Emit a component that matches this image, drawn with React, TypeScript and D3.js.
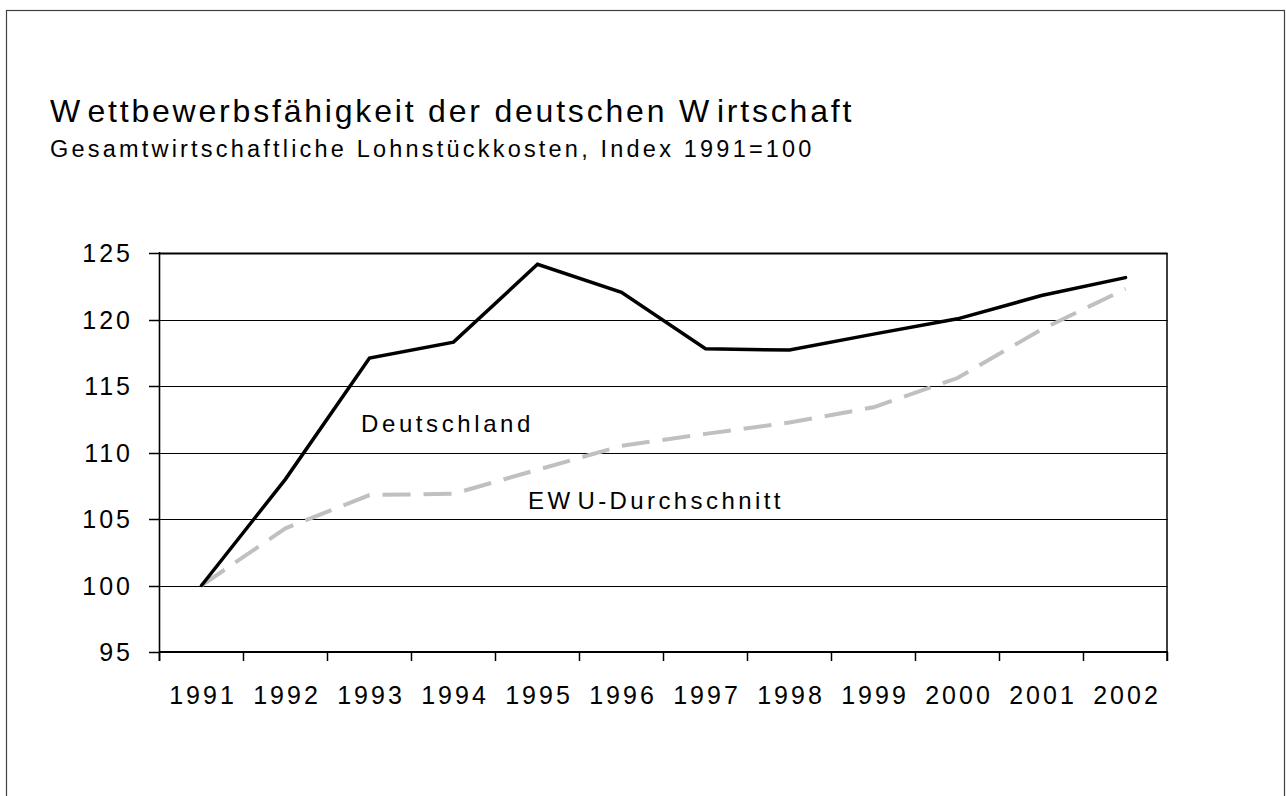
import React from "react";
import * as d3 from "d3";

const years = ["1991","1992","1993","1994","1995","1996","1997","1998","1999","2000","2001","2002"];
const deutschland = [100, 108, 117.1, 118.3, 124.15, 122.05, 117.8, 117.7, 118.9, 120.05, 121.8, 123.15];
const ewu = [100, 104.3, 106.8, 106.9, 108.7, 110.5, 111.4, 112.25, 113.4, 115.6, 119.25, 122.3];
const yTicks = [95, 100, 105, 110, 115, 120, 125];

const FONT = "'Liberation Sans', Arial, Helvetica, sans-serif";

export default function App() {
  const W = 1286, H = 796;
  const x = d3.scaleBand<string>().domain(years).range([159.5, 1167.5]);
  const y = d3.scaleLinear().domain([95, 125]).range([652, 253]);
  const cx = (d: string) => (x(d) as number) + x.bandwidth() / 2;
  const line = d3.line<number>().x((_, i) => cx(years[i])).y((v) => y(v));
  const boundaries = d3.range(years.length + 1).map((i) => 159.5 + i * x.bandwidth());

  return (
    <svg width={W} height={H} style={{ position: "absolute", left: 0, top: 0 }} fontFamily={FONT}>
      <rect x={0} y={0} width={W} height={H} fill="#fff" />
      <rect x={6.5} y={10.5} width={1278} height={820} fill="none" stroke="#404040" strokeWidth={1.2} />

      <text x={50} y={122} fontSize={32} letterSpacing={2.8} fill="#000">
        W<tspan dx={5}>ettbewerbsfähigkeit der deutschen W</tspan><tspan dx={5}>irtschaft</tspan>
      </text>
      <text x={50} y={157} fontSize={23.5} letterSpacing={3.2} fill="#000">Gesamtwirtschaftliche Lohnstückkosten, Index 1991=100</text>

      {yTicks.filter((t) => t > 95).map((t) => (
        <line key={"g" + t} x1={159.5} x2={1167.5} y1={Math.round(y(t)) + 0.5} y2={Math.round(y(t)) + 0.5} stroke="#000" strokeWidth={t === 125 ? 1.8 : 1.2} />
      ))}
      <line x1={1167} x2={1167} y1={253} y2={661} stroke="#000" strokeWidth={1.5} />
      <line x1={159.5} x2={159.5} y1={252} y2={661} stroke="#000" strokeWidth={1.6} />
      <line x1={159.5} x2={1168} y1={652} y2={652} stroke="#000" strokeWidth={2.2} />
      {yTicks.map((t) => (
        <line key={"yt" + t} x1={149} x2={160} y1={Math.round(y(t)) + 0.5} y2={Math.round(y(t)) + 0.5} stroke="#000" strokeWidth={1.5} />
      ))}
      {boundaries.map((b, i) => (
        <line key={"xt" + i} x1={b} x2={b} y1={652} y2={661} stroke="#000" strokeWidth={1.5} />
      ))}
      {yTicks.map((t) => (
        <text key={"yl" + t} x={133} y={y(t)} dy="0.36em" textAnchor="end" fontSize={25} letterSpacing={3} fill="#000">{t}</text>
      ))}
      {years.map((yr) => (
        <text key={"xl" + yr} x={cx(yr) + 1.5} y={704} textAnchor="middle" fontSize={25} letterSpacing={3} fill="#000">{yr}</text>
      ))}

      <path d={line(ewu) || ""} fill="none" stroke="#c0c0c0" strokeWidth={4} strokeDasharray="28 13" />
      <path d={line(deutschland) || ""} fill="none" stroke="#000" strokeWidth={3.5} strokeLinejoin="miter" strokeLinecap="round" />

      <text x={361} y={432} fontSize={24} letterSpacing={3.6} fill="#000">Deutschland</text>
      <text x={528} y={509} fontSize={24} letterSpacing={3.4} fill="#000">
        EW<tspan dx={4}>U-Durchschnitt</tspan>
      </text>
    </svg>
  );
}
